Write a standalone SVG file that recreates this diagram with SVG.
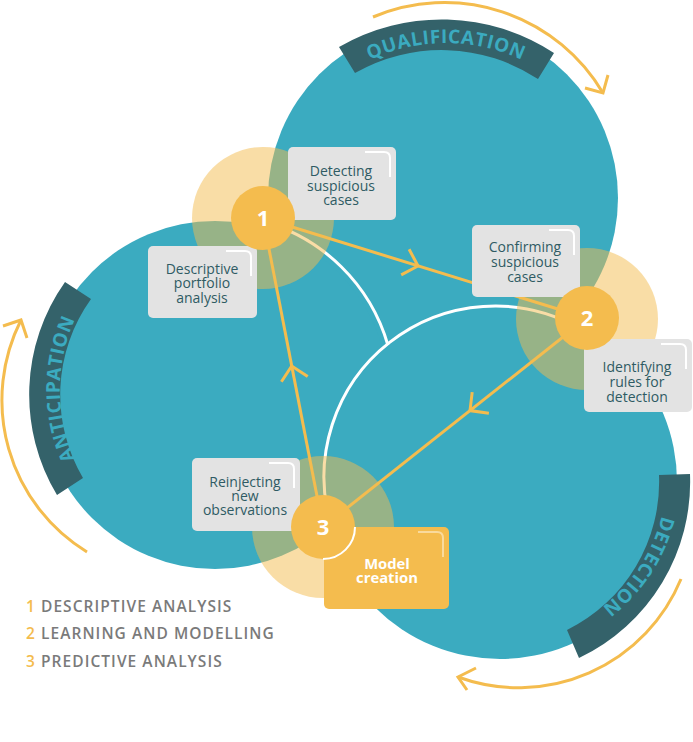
<svg xmlns="http://www.w3.org/2000/svg" width="693" height="742" viewBox="0 0 693 742">
<defs>
<style>
.teal{fill:#3BABC0}
.band{fill:#34626A}
.bandtxt{font-family:"Open Sans","Liberation Sans",sans-serif;font-weight:700;font-size:19px;fill:#3BABC0;letter-spacing:0.6px}
.halo{fill:#F4BC4E;fill-opacity:0.5}
.wline{fill:none;stroke:#FFFFFF;stroke-width:3}
.yline{fill:none;stroke:#F4BC4E;stroke-width:3}
.arrow{fill:none;stroke:#F4BC4E;stroke-width:3}
.node{fill:#F4BC4E}
.num{font-family:"Open Sans","Liberation Sans",sans-serif;font-weight:700;font-size:22px;fill:#FFFFFF;text-anchor:middle}
.box{fill:#E3E3E3}
.ybox{fill:#F4BC4E}
.hl{fill:none;stroke:#FFFFFF;stroke-width:2}
.hly{fill:none;stroke:#FFFFFF;stroke-opacity:0.45;stroke-width:2}
.lbl{font-family:"Open Sans","Liberation Sans",sans-serif;font-size:14px;fill:#2F5B63;text-anchor:middle}
.mlbl{font-family:"Open Sans","Liberation Sans",sans-serif;font-weight:700;font-size:14.8px;fill:#FFFFFF;text-anchor:middle}
.legend{font-family:"Open Sans","Liberation Sans",sans-serif;font-weight:600;font-size:15.5px;fill:#7A7A7A;letter-spacing:1.05px}
.legnum{fill:#F4BC4E}
</style>
<path id="tpQ" d="M277.8 160.8 A179 179 0 0 1 614.2 160.8"/>
<path id="tpA" d="M170.5 546.9 A168 168 0 0 1 170.5 231.1"/>
<path id="tpD" d="M633.9 375.2 A167 167 0 0 1 461.6 637.5"/>
</defs>

<g id="circles">
<circle class="teal" cx="443" cy="198" r="175"/>
<circle class="teal" cx="215" cy="395" r="174"/>
<circle class="teal" cx="500" cy="482" r="177"/>
</g>

<g id="outlines">
<path class="wline" d="M262.2 221.3 A180 180 0 0 1 387.9 345.1"/>
<path class="wline" d="M580.7 329 A171 171 0 0 0 330.8 524.7"/>
</g>

<g id="bands">
<g id="band-qualification">
<path class="band" d="M339 47 A205 205 0 0 1 554 53 L538 79 A175 175 0 0 0 355 73 Z"/>
<text class="bandtxt" text-anchor="middle"><textPath href="#tpQ" startOffset="50%">QUALIFICATION</textPath></text>
</g>
<g id="band-anticipation">
<path class="band" d="M65 282 A195 195 0 0 0 57 495 L83 478 A164 164 0 0 1 91 299 Z"/>
<text class="bandtxt" text-anchor="middle"><textPath href="#tpA" startOffset="50%">ANTICIPATION</textPath></text>
</g>
<g id="band-detection">
<path class="band" d="M690 474 A195 195 0 0 1 579 658 L567 630 A165 165 0 0 0 659 475 Z"/>
<text class="bandtxt" text-anchor="middle"><textPath href="#tpD" startOffset="50%">DETECTION</textPath></text>
</g>
</g>

<g id="cycle-arrows">
<path class="arrow" d="M373 17 A184 184 0 0 1 603 93"/>
<polyline class="arrow" points="585,88 603,93 608,75"/>
<path class="arrow" d="M87 552 A178 178 0 0 1 21 320"/>
<polyline class="arrow" points="3,326 21,320 27,338"/>
<path class="arrow" d="M681 579 A176 176 0 0 1 458 677"/>
<polyline class="arrow" points="476,668 458,677 467,690"/>
</g>

<g id="halos">
<circle class="halo" cx="263" cy="218" r="71"/>
<circle class="halo" cx="587" cy="319" r="71"/>
<circle class="halo" cx="323" cy="527" r="71"/>
</g>

<g id="connectors">
<path class="yline" d="M263 218 L587 318"/>
<polyline class="yline" points="409.1,249.2 418,266 401.2,274.9"/>
<path class="yline" d="M587 318 L323 527"/>
<polyline class="yline" points="472.2,392.1 470,410.6 488.9,413.2"/>
<path class="yline" d="M323 527 L263 218"/>
<polyline class="yline" points="281.4,381.7 291.7,366 307.7,376.6"/>
</g>

<g id="label-detecting">
<rect class="box" x="288" y="147" width="108" height="73" rx="5"/>
<path class="hl" d="M365 152 H384 Q390 152 390 158 V177"/>
<text class="lbl"><tspan x="341" y="176">Detecting</tspan><tspan x="341" y="190.5">suspicious</tspan><tspan x="341" y="205">cases</tspan></text>
</g>
<g id="label-descriptive">
<rect class="box" x="148" y="246" width="109" height="72" rx="5"/>
<path class="hl" d="M226 251 H245 Q251 251 251 257 V276"/>
<text class="lbl"><tspan x="202" y="273.5">Descriptive</tspan><tspan x="202" y="288">portfolio</tspan><tspan x="202" y="302.5">analysis</tspan></text>
</g>
<g id="label-confirming">
<rect class="box" x="472" y="225" width="108" height="72" rx="5"/>
<path class="hl" d="M549 230 H568 Q574 230 574 236 V255"/>
<text class="lbl"><tspan x="525" y="252">Confirming</tspan><tspan x="525" y="266.5">suspicious</tspan><tspan x="525" y="281.5">cases</tspan></text>
</g>
<g id="label-identifying">
<rect class="box" x="584" y="339" width="108" height="73" rx="5"/>
<path class="hl" d="M661 344 H680 Q686 344 686 350 V369"/>
<text class="lbl"><tspan x="637" y="371.5">Identifying</tspan><tspan x="637" y="386.5">rules for</tspan><tspan x="637" y="401.5">detection</tspan></text>
</g>
<g id="label-reinjecting">
<rect class="box" x="192" y="458" width="108" height="73" rx="5"/>
<path class="hl" d="M269 463 H288 Q294 463 294 469 V488"/>
<text class="lbl"><tspan x="245" y="486.5">Reinjecting</tspan><tspan x="245" y="500.5">new</tspan><tspan x="245" y="515">observations</tspan></text>
</g>
<g id="label-model">
<rect class="ybox" x="324" y="527" width="125" height="82" rx="5"/>
<path class="hly" d="M418 532 H437 Q443 532 443 538 V557"/>
<text class="mlbl"><tspan x="387" y="569">Model</tspan><tspan x="387" y="583">creation</tspan></text>
</g>

<g id="node-1">
<circle class="node" cx="263" cy="218" r="32"/>
<text class="num" x="263" y="226">1</text>
</g>
<g id="node-2">
<circle class="node" cx="587" cy="318" r="32"/>
<text class="num" x="587" y="326">2</text>
</g>
<g id="node-3">
<circle class="node" cx="323" cy="527" r="32"/>
<path class="hl" d="M355 527 A32 32 0 0 1 323 559"/>
<text class="num" x="323" y="535">3</text>
</g>

<g id="legend">
<text class="legend" x="26" y="611.5"><tspan class="legnum">1</tspan> DESCRIPTIVE ANALYSIS</text>
<text class="legend" x="26" y="639"><tspan class="legnum">2</tspan> LEARNING AND MODELLING</text>
<text class="legend" x="26" y="666.5"><tspan class="legnum">3</tspan> PREDICTIVE ANALYSIS</text>
</g>
</svg>
